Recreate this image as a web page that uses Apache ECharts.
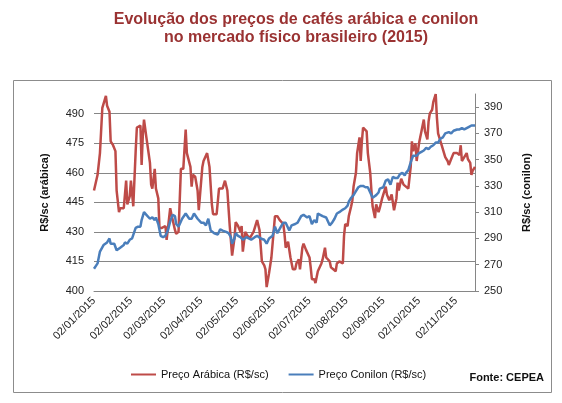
<!DOCTYPE html>
<html>
<head>
<meta charset="utf-8">
<title>Evolução dos preços de cafés arábica e conilon</title>
<script src="https://cdn.jsdelivr.net/npm/echarts@6/dist/echarts.min.js"></script>
<style>
  html, body { margin: 0; padding: 0; background: #fff; }
  #main { width: 562px; height: 403px; }
</style>
</head>
<body>
<div id="main"></div>
<script>
// datas e preços (R$/saca)
var arabicaDates = [
  '2015-01-02','2015-01-05','2015-01-07','2015-01-09','2015-01-11','2015-01-12','2015-01-13','2015-01-14','2015-01-15','2015-01-16',
  '2015-01-18','2015-01-20','2015-01-21','2015-01-23','2015-01-24','2015-01-27','2015-01-29','2015-01-30','2015-02-01','2015-02-02',
  '2015-02-04','2015-02-06','2015-02-07','2015-02-10','2015-02-11','2015-02-12','2015-02-13','2015-02-15','2015-02-18','2015-02-19',
  '2015-02-20','2015-02-22','2015-02-23','2015-02-25','2015-02-26','2015-02-28','2015-03-03','2015-03-04','2015-03-07','2015-03-08',
  '2015-03-09','2015-03-11','2015-03-12','2015-03-14','2015-03-16','2015-03-18','2015-03-20','2015-03-21','2015-03-24','2015-03-25',
  '2015-03-26','2015-03-28','2015-03-30','2015-03-31','2015-04-03','2015-04-04','2015-04-07','2015-04-09','2015-04-11','2015-04-12',
  '2015-04-15','2015-04-17','2015-04-20','2015-04-22','2015-04-24','2015-04-26','2015-04-28','2015-04-30','2015-05-01','2015-05-03',
  '2015-05-05','2015-05-06','2015-05-07','2015-05-09','2015-05-11','2015-05-13','2015-05-16','2015-05-19','2015-05-21','2015-05-23',
  '2015-05-25','2015-05-26','2015-05-27','2015-05-29','2015-05-31','2015-06-02','2015-06-03','2015-06-05','2015-06-07','2015-06-10',
  '2015-06-11','2015-06-12','2015-06-14','2015-06-16','2015-06-18','2015-06-20','2015-06-21','2015-06-23','2015-06-24','2015-06-26',
  '2015-06-27','2015-06-29','2015-07-02','2015-07-03','2015-07-04','2015-07-06','2015-07-07','2015-07-09','2015-07-10','2015-07-12',
  '2015-07-13','2015-07-15','2015-07-16','2015-07-17','2015-07-19','2015-07-20','2015-07-22','2015-07-24','2015-07-25','2015-07-27',
  '2015-07-28','2015-07-30','2015-07-31','2015-08-01','2015-08-03','2015-08-04','2015-08-06','2015-08-07','2015-08-08','2015-08-10',
  '2015-08-11','2015-08-13','2015-08-14','2015-08-15','2015-08-16','2015-08-17','2015-08-19','2015-08-20','2015-08-22','2015-08-23',
  '2015-08-24','2015-08-26','2015-08-27','2015-08-29','2015-08-30','2015-09-01','2015-09-04','2015-09-05','2015-09-07','2015-09-09',
  '2015-09-11','2015-09-13','2015-09-14','2015-09-15','2015-09-17','2015-09-19','2015-09-21','2015-09-23','2015-09-25','2015-09-26',
  '2015-09-27','2015-09-29','2015-09-30','2015-10-02','2015-10-03','2015-10-04','2015-10-06','2015-10-07','2015-10-09','2015-10-10',
  '2015-10-11','2015-10-13','2015-10-14','2015-10-16','2015-10-17','2015-10-18','2015-10-19','2015-10-20','2015-10-21','2015-10-23',
  '2015-10-24','2015-10-26','2015-10-27','2015-10-29','2015-10-31','2015-11-01','2015-11-03','2015-11-05','2015-11-06','2015-11-07',
  '2015-11-09','2015-11-11','2015-11-12','2015-11-14','2015-11-15','2015-11-16','2015-11-18'
];
var arabicaValues = [
  451, 459, 470, 493, 497, 499, 494, 495, 491, 476,
  474, 471, 451, 440, 442, 442, 456, 444, 448, 456,
  443, 471, 483, 484, 464, 479, 487, 478, 465, 454,
  452, 462, 452, 447, 432, 432, 433, 426, 442, 439,
  438, 431, 429, 430, 462, 462, 482, 470, 463, 453,
  459, 458, 451, 441, 463, 466, 470, 463, 444, 439,
  439, 452, 452, 456, 451, 433, 418, 427, 435, 433,
  430, 433, 420, 430, 428, 427, 430, 436, 431, 415,
  413, 411, 402, 409, 417, 431, 438, 438, 436, 434,
  429, 422, 425, 417, 411, 411, 414, 416, 411, 422,
  424, 421, 417, 412, 406, 406, 404, 410, 411, 414,
  416, 422, 417, 417, 415, 412, 411, 410, 414, 415,
  414, 414, 428, 434, 433, 438, 443, 446, 453, 460,
  470, 478, 466, 476, 483, 483, 481, 470, 460, 451,
  443, 437, 444, 440, 442, 447, 453, 449, 446, 449,
  441, 447, 455, 451, 457, 454, 453, 452, 463, 476,
  471, 475, 466, 475, 478, 481, 487, 481, 477, 486,
  490, 492, 496, 500, 488, 480, 478, 476, 474, 470,
  468, 466, 464, 467, 470, 470, 470, 469, 474, 466,
  468, 470, 467, 465, 459, 461, 463
];

var conilonDates = [
  '2015-01-02','2015-01-05','2015-01-07','2015-01-10','2015-01-13','2015-01-15','2015-01-16','2015-01-19','2015-01-21','2015-01-24',
  '2015-01-27','2015-01-28','2015-01-30','2015-02-01','2015-02-03','2015-02-04','2015-02-06','2015-02-08','2015-02-10','2015-02-11',
  '2015-02-13','2015-02-15','2015-02-18','2015-02-20','2015-02-22','2015-02-23','2015-02-25','2015-02-27','2015-03-01','2015-03-03',
  '2015-03-05','2015-03-07','2015-03-09','2015-03-11','2015-03-12','2015-03-14','2015-03-17','2015-03-20','2015-03-23','2015-03-25',
  '2015-03-27','2015-03-30','2015-04-02','2015-04-04','2015-04-06','2015-04-08','2015-04-10','2015-04-13','2015-04-16','2015-04-18',
  '2015-04-20','2015-04-23','2015-04-25','2015-04-27','2015-04-28','2015-04-30','2015-05-01','2015-05-03','2015-05-05','2015-05-07',
  '2015-05-10','2015-05-12','2015-05-14','2015-05-17','2015-05-19','2015-05-22','2015-05-25','2015-05-27','2015-05-29','2015-06-01',
  '2015-06-03','2015-06-05','2015-06-08','2015-06-10','2015-06-12','2015-06-15','2015-06-17','2015-06-20','2015-06-22','2015-06-25',
  '2015-06-27','2015-06-30','2015-07-02','2015-07-04','2015-07-06','2015-07-08','2015-07-09','2015-07-11','2015-07-13','2015-07-16',
  '2015-07-18','2015-07-19','2015-07-21','2015-07-23','2015-07-25','2015-07-27','2015-07-30','2015-08-01','2015-08-03','2015-08-04',
  '2015-08-06','2015-08-08','2015-08-10','2015-08-12','2015-08-14','2015-08-16','2015-08-18','2015-08-20','2015-08-22','2015-08-24',
  '2015-08-27','2015-08-29','2015-08-30','2015-09-02','2015-09-04','2015-09-06','2015-09-08','2015-09-10','2015-09-12','2015-09-14',
  '2015-09-16','2015-09-18','2015-09-20','2015-09-21','2015-09-23','2015-09-25','2015-09-27','2015-09-28','2015-09-30','2015-10-02',
  '2015-10-04','2015-10-06','2015-10-08','2015-10-10','2015-10-12','2015-10-14','2015-10-16','2015-10-18','2015-10-20','2015-10-22',
  '2015-10-24','2015-10-27','2015-10-29','2015-10-31','2015-11-03','2015-11-05','2015-11-07','2015-11-09','2015-11-11','2015-11-13',
  '2015-11-15','2015-11-16','2015-11-18'
];
var conilonValues = [
  267, 271, 280, 285, 287, 290, 286, 286, 281, 283,
  285, 287, 286, 289, 290, 289, 298, 299, 299, 304,
  310, 308, 305, 306, 304, 306, 301, 292, 291, 292,
  296, 303, 308, 307, 301, 299, 305, 309, 305, 305,
  309, 305, 302, 302, 300, 305, 296, 294, 293, 297,
  296, 295, 294, 291, 286, 290, 294, 292, 291, 289,
  291, 290, 289, 291, 292, 290, 289, 286, 290, 292,
  299, 294, 299, 302, 302, 296, 300, 301, 302, 307,
  308, 306, 307, 301, 304, 302, 309, 308, 307, 306,
  302, 300, 302, 305, 309, 310, 312, 313, 315, 318,
  321, 323, 326, 329, 330, 330, 329, 329, 325, 321,
  323, 325, 328, 329, 334, 335, 331, 337, 336, 336,
  339, 340, 338, 340, 342, 348, 353, 352, 353, 355,
  356, 357, 359, 358, 360, 361, 363, 363, 366, 367,
  370, 371, 370, 372, 373, 373, 374, 373, 374, 375,
  376, 376, 376
];

var tickDates = [
  '2015-01-02','2015-02-02','2015-03-02','2015-04-02','2015-05-02','2015-06-02',
  '2015-07-02','2015-08-02','2015-09-02','2015-10-02','2015-11-02'
];

var FONT = 'Liberation Sans, Arial, sans-serif';

// datas viram timestamps num eixo de valores (ticks no dia 02 de cada mês)
function toTime(s) {
  var p = s.split('-');
  return new Date(+p[0], +p[1] - 1, +p[2]).getTime();
}
function pad(n) {
  return n < 10 ? '0' + n : '' + n;
}

var myChart = echarts.init(document.getElementById('main'));

var option = {
  animation: false,
  backgroundColor: '#fff',
  textStyle: { fontFamily: FONT },
  title: {
    text: 'Evolução dos preços de cafés arábica e conilon\nno mercado físico brasileiro (2015)',
    left: 291,
    top: 6,
    textAlign: 'center',
    textStyle: {
      fontFamily: FONT,
      fontSize: 16,
      fontWeight: 'bold',
      lineHeight: 18,
      color: '#9A3232'
    }
  },
  legend: {
    left: 126,
    top: 364,
    icon: 'rect',
    itemWidth: 25,
    itemHeight: 2,
    itemGap: 20,
    textStyle: { fontFamily: FONT, fontSize: 11, color: '#111' },
    data: ['Preço Arábica (R$/sc)', 'Preço Conilon (R$/sc)']
  },
  grid: {
    left: 94,
    right: 87,
    top: 94,
    bottom: 112
  },
  xAxis: {
    type: 'value',
    min: toTime(arabicaDates[0]),
    max: toTime(arabicaDates[arabicaDates.length - 1]),
    axisLine: { lineStyle: { color: '#868686', width: 1 } },
    axisTick: { show: false },
    splitLine: { show: false },
    axisLabel: {
      customValues: tickDates.map(toTime),
      rotate: 45,
      margin: 8,
      fontSize: 11,
      color: '#222',
      fontFamily: FONT,
      hideOverlap: false,
      formatter: function (v) {
        var d = new Date(v);
        return pad(d.getDate()) + '/' + pad(d.getMonth() + 1) + '/' + d.getFullYear();
      }
    }
  },
  yAxis: [
    {
      type: 'value',
      min: 400,
      max: 500,
      interval: 15,
      name: 'R$/sc (arábica)',
      nameLocation: 'middle',
      nameRotate: 90,
      nameGap: 44,
      nameTextStyle: { fontFamily: FONT, fontSize: 11, fontWeight: 'bold', color: '#111' },
      axisLine: { show: false },
      axisTick: { show: false },
      axisLabel: { margin: 10, fontSize: 11, color: '#222', fontFamily: FONT, showMaxLabel: false },
      splitLine: { show: true, showMaxLine: false, lineStyle: { color: '#868686', width: 1 } }
    },
    {
      type: 'value',
      min: 250,
      max: 400,
      interval: 20,
      name: 'R$/sc (conilon)',
      nameLocation: 'middle',
      nameRotate: 90,
      nameGap: 46,
      nameTextStyle: { fontFamily: FONT, fontSize: 11, fontWeight: 'bold', color: '#111' },
      axisLine: { show: true, lineStyle: { color: '#868686', width: 1 } },
      axisTick: { show: true, length: 4, lineStyle: { color: '#868686' } },
      axisLabel: { margin: 9, fontSize: 11, color: '#222', fontFamily: FONT, showMaxLabel: false },
      splitLine: { show: false }
    }
  ],
  series: [
    {
      name: 'Preço Arábica (R$/sc)',
      type: 'line',
      yAxisIndex: 0,
      symbol: 'none',
      color: '#BE4B48',
      lineStyle: { width: 2.5, color: '#BE4B48' },
      data: arabicaDates.map(function (d, i) { return [toTime(d), arabicaValues[i]]; })
    },
    {
      name: 'Preço Conilon (R$/sc)',
      type: 'line',
      yAxisIndex: 1,
      symbol: 'none',
      color: '#4A7EBB',
      lineStyle: { width: 2.5, color: '#4A7EBB' },
      data: conilonDates.map(function (d, i) { return [toTime(d), conilonValues[i]]; })
    }
  ],
  graphic: [
    {
      type: 'rect',
      left: 11,
      top: 78,
      shape: { width: 538, height: 312 },
      style: { fill: 'none', stroke: '#8C8C8C', lineWidth: 1 },
      silent: true
    },
    {
      type: 'text',
      right: 18,
      top: 372,
      style: {
        text: 'Fonte: CEPEA',
        font: 'bold 11px ' + FONT,
        fill: '#111'
      }
    }
  ]
};

myChart.setOption(option);
</script>
</body>
</html>
